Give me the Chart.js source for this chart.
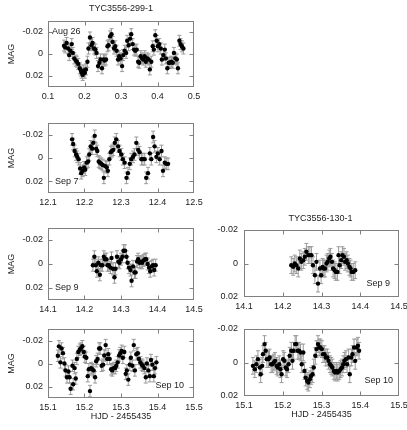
<!DOCTYPE html>
<html>
<head>
<meta charset="utf-8">
<script src="https://cdn.jsdelivr.net/npm/chart.js@4.4.1/dist/chart.umd.min.js"></script>
<style>
  body { margin: 0; background: #fff; width: 407px; height: 430px; position: relative; overflow: hidden; }
  canvas { position: absolute; }
</style>
</head>
<body>
<canvas id="c1" width="206" height="107" style="left:0;top:0"></canvas>
<canvas id="c2" width="206" height="103" style="left:0;top:110px"></canvas>
<canvas id="c3" width="206" height="105" style="left:0;top:215px"></canvas>
<canvas id="c4" width="206" height="107" style="left:0;top:315px"></canvas>
<canvas id="c5" width="207" height="107" style="left:200px;top:210px"></canvas>
<canvas id="c6" width="207" height="105" style="left:200px;top:315px"></canvas>
<script>
// TYC3556-299-1, Aug 26
const s299Aug26Hjd = [0.144,0.147,0.151,0.155,0.158,0.161,0.165,0.168,0.172,0.176,0.179,0.183,0.187,0.190,0.192,0.195,0.198,0.201,0.204,0.208,
  0.211,0.215,0.219,0.222,0.226,0.230,0.233,0.237,0.241,0.244,0.248,0.252,0.255,0.259,0.263,0.266,0.270,0.274,0.277,0.281,
  0.284,0.288,0.292,0.295,0.299,0.303,0.306,0.310,0.314,0.317,0.321,0.325,0.328,0.332,0.336,0.339,0.343,0.347,0.350,0.354,
  0.358,0.361,0.365,0.368,0.372,0.376,0.379,0.383,0.387,0.390,0.394,0.398,0.401,0.405,0.409,0.412,0.416,0.420,0.423,0.427,
  0.431,0.434,0.438,0.442,0.445,0.449,0.453,0.456,0.460,0.463,0.467,0.471];
const s299Aug26Mag = [-0.0076,-0.006,-0.010,-0.005,0.001,-0.003,-0.009,-0.001,0.004,0.006,0.007,0.009,0.013,0.015,0.017,0.019,0.015,0.017,0.014,0.007,
  -0.005,-0.015,-0.008,-0.010,-0.005,-0.004,-0.001,0.011,0.008,0.005,0.013,0.005,0.006,0.005,-0.007,-0.008,-0.016,-0.018,-0.011,-0.005,
  -0.007,-0.003,0.005,0.002,0.004,0.011,0.001,-0.003,-0.001,-0.012,-0.008,-0.014,-0.018,-0.009,-0.004,-0.003,-0.004,0.007,0.008,0.002,
  0.004,0.005,0.002,0.007,0.004,0.005,0.014,0.007,-0.007,-0.004,-0.017,-0.012,-0.007,-0.009,-0.005,0.005,0.001,-0.004,0.004,0.013,
  0.008,0.008,0.007,0.008,-0.001,0.004,0.005,0.013,-0.012,-0.009,-0.007,-0.005];

// TYC3556-299-1, Sep 7
const s299Sep7Hjd = [12.166,12.169,12.173,12.177,12.180,12.184,12.188,12.191,12.195,12.199,12.202,12.206,12.210,12.213,12.217,12.221,12.224,12.228,12.232,12.235,
  12.239,12.242,12.246,12.250,12.253,12.257,12.261,12.264,12.268,12.272,12.275,12.279,12.283,12.287,12.292,12.296,12.301,12.305,12.310,12.315,
  12.319,12.324,12.328,12.333,12.337,12.342,12.347,12.351,12.356,12.360,12.365,12.369,12.374,12.379,12.383,12.388,12.392,12.397,12.401,12.406,
  12.411,12.415,12.420,12.424,12.429];
const s299Sep7Mag = [-0.016,-0.012,-0.006,-0.003,-0.001,0.001,0.009,0.013,0.011,0.008,0.010,0.004,0.003,-0.003,-0.010,-0.008,-0.013,-0.019,-0.008,-0.006,
  0.003,0.004,0.005,0.006,0.017,0.007,0.008,0.011,0.001,-0.005,-0.006,-0.007,-0.013,-0.016,-0.010,-0.006,-0.003,0.001,0.004,0.017,
  0.013,0.005,0.001,-0.001,-0.003,-0.013,-0.007,-0.005,0.001,0.001,0.001,0.017,0.013,-0.004,0.001,-0.018,-0.010,-0.001,-0.004,0.001,
  -0.006,0.011,0.004,0.005,0.005];

// TYC3556-299-1, Sep 9
const s299Sep9Hjd = [14.223,14.227,14.231,14.234,14.238,14.242,14.245,14.249,14.253,14.256,14.260,14.263,14.267,14.271,14.274,14.278,14.282,14.285,14.289,14.293,
  14.296,14.300,14.304,14.307,14.311,14.315,14.318,14.322,14.326,14.329,14.333,14.337,14.340,14.344,14.347,14.351,14.355,14.358,14.362,14.366,
  14.369,14.373,14.377,14.380,14.384,14.388,14.391,14.395];
const s299Sep9Mag = [0.001,-0.006,0.001,0.006,-0.001,0.009,0.001,0.001,-0.006,-0.004,-0.004,0.001,0.001,0.003,-0.005,0.004,0.011,0.004,-0.006,-0.002,
  -0.001,-0.004,-0.006,-0.011,-0.011,-0.006,-0.001,0.003,0.005,0.014,0.002,0.007,0.007,-0.002,-0.004,-0.001,-0.002,-0.001,-0.003,-0.004,
  -0.004,0.000,0.003,0.006,0.002,0.001,0.005,0.001];

// TYC3556-299-1, Sep 10
const s299Sep10Hjd = [15.127,15.130,15.134,15.137,15.141,15.145,15.148,15.152,15.156,15.159,15.162,15.167,15.169,15.173,15.176,15.179,15.183,15.187,15.190,15.194,
  15.198,15.201,15.205,15.209,15.212,15.215,15.218,15.221,15.225,15.229,15.232,15.236,15.240,15.243,15.247,15.251,15.254,15.258,15.262,15.265,
  15.269,15.273,15.276,15.280,15.284,15.287,15.291,15.295,15.298,15.302,15.305,15.309,15.313,15.316,15.320,15.324,15.327,15.331,15.335,15.338,
  15.342,15.346,15.349,15.353,15.357,15.360,15.364,15.368,15.371,15.375,15.379,15.382,15.386,15.390,15.393,15.397];
const s299Sep10Mag = [-0.0067,-0.0149,-0.001,-0.013,-0.009,0.000,0.006,0.012,0.007,0.012,0.022,0.002,0.018,0.004,0.013,-0.004,-0.010,-0.012,-0.013,-0.015,
  -0.010,-0.006,-0.005,0.011,0.005,0.024,0.004,0.005,0.006,0.012,-0.002,-0.004,-0.013,-0.013,0.002,0.001,-0.007,-0.016,-0.004,-0.008,
  -0.004,0.005,0.006,0.004,0.004,0.002,-0.001,-0.007,-0.009,-0.011,-0.005,-0.010,0.009,0.006,0.014,0.001,-0.005,0.002,-0.016,0.006,
  -0.008,-0.009,-0.004,-0.001,0.001,0.002,0.004,0.012,0.000,0.006,0.011,-0.003,0.001,0.011,0.004,-0.001];

// TYC3556-130-1, Sep 9
const s130Sep9Hjd = [14.222,14.227,14.231,14.235,14.240,14.244,14.248,14.253,14.257,14.261,14.266,14.270,14.274,14.278,14.283,14.287,14.291,14.296,14.299,14.303,
  14.306,14.309,14.313,14.316,14.320,14.323,14.327,14.330,14.334,14.337,14.341,14.344,14.347,14.351,14.354,14.358,14.361,14.365,14.368,14.372,
  14.375,14.378,14.382,14.387];
const s130Sep9Mag = [0.001,0.002,0.000,0.001,0.003,-0.003,-0.001,-0.002,-0.004,-0.007,-0.005,-0.005,-0.005,0.001,0.007,-0.001,0.012,0.003,0.007,0.002,
  0.003,0.003,0.000,-0.001,-0.003,-0.004,-0.001,0.003,0.004,0.005,0.005,-0.005,0.001,-0.002,-0.005,-0.004,-0.001,-0.002,0.000,0.002,
  0.003,0.005,0.005,0.004];

// TYC3556-130-1, Sep 10
const s130Sep10Hjd = [15.123,15.128,15.132,15.136,15.141,15.143,15.147,15.149,15.153,15.156,15.159,15.163,15.166,15.170,15.173,15.177,15.180,15.184,15.187,15.191,
  15.194,15.197,15.201,15.204,15.208,15.211,15.215,15.218,15.222,15.225,15.228,15.232,15.235,15.239,15.242,15.246,15.249,15.253,15.256,15.259,
  15.263,15.266,15.270,15.273,15.277,15.280,15.284,15.287,15.291,15.294,15.297,15.301,15.304,15.308,15.311,15.315,15.318,15.322,15.325,15.328,
  15.332,15.335,15.339,15.342,15.346,15.349,15.353,15.356,15.359,15.363,15.366,15.370,15.373,15.377,15.380,15.384,15.387,15.391,15.394,15.397];
const s130Sep10Mag = [0.002,0.004,0.001,-0.002,0.003,0.007,0.002,-0.005,-0.011,-0.007,-0.002,-0.002,-0.003,0.001,0.001,0.000,-0.001,0.002,0.003,0.001,
  0.004,0.007,-0.002,-0.001,0.003,0.004,0.001,-0.004,-0.007,-0.001,-0.007,-0.011,-0.011,-0.007,-0.007,-0.006,0.001,-0.006,0.005,0.009,
  0.011,0.012,0.010,0.008,0.007,0.003,-0.004,-0.008,-0.011,-0.009,-0.009,-0.008,-0.005,-0.005,-0.003,-0.003,-0.001,0.001,0.002,0.003,
  0.005,0.006,0.005,0.006,0.005,0.004,0.003,0.001,-0.001,-0.002,0.001,-0.003,0.007,-0.003,-0.005,-0.009,-0.001,-0.009,-0.010,-0.007];

// photometric error and tick labels
const magErr = 0.005;
const ticksAug26 = [0.1, 0.2, 0.3, 0.4, 0.5];
const ticksSep7 = [12.1, 12.2, 12.3, 12.4, 12.5];
const ticksSep9 = [14.1, 14.2, 14.3, 14.4, 14.5];
const ticksSep10 = [15.1, 15.2, 15.3, 15.4, 15.5];
const magTicks = [-0.02, 0, 0.02];

Chart.defaults.font.family = '"Liberation Sans", Arial, sans-serif';
Chart.defaults.font.size = 9;
Chart.defaults.color = '#222';

const panelPlugin = {
  id: 'panel',
  beforeDatasetsDraw(chart, args, o) {
    // error bars
    const { ctx, scales: { x, y } } = chart;
    ctx.save();
    ctx.strokeStyle = '#9a9a9a';
    ctx.lineWidth = 1;
    ctx.beginPath();
    chart.data.datasets[0].data.forEach(p => {
      const px = x.getPixelForValue(p.x);
      const y1 = y.getPixelForValue(p.y - o.err);
      const y2 = y.getPixelForValue(p.y + o.err);
      ctx.moveTo(px, y1); ctx.lineTo(px, y2);
      ctx.moveTo(px - 2, y1); ctx.lineTo(px + 2, y1);
      ctx.moveTo(px - 2, y2); ctx.lineTo(px + 2, y2);
    });
    ctx.stroke();
    ctx.restore();
  },
  afterDraw(chart, args, o) {
    const { ctx, chartArea: a, scales: { x, y } } = chart;
    const l = Math.round(a.left) + 0.5, r = Math.round(a.right) - 0.5;
    const t = Math.round(a.top) + 0.5, b = Math.round(a.bottom) - 0.5;
    ctx.save();
    ctx.strokeStyle = '#808080';
    ctx.lineWidth = 1;
    ctx.strokeRect(l, t, r - l, b - t);
    ctx.beginPath();
    x.ticks.forEach(tk => {
      const px = Math.round(x.getPixelForValue(tk.value)) + 0.5;
      if (px < l + 2 || px > r - 2) return;
      ctx.moveTo(px, b); ctx.lineTo(px, b - 4);
      ctx.moveTo(px, t); ctx.lineTo(px, t + 4);
    });
    y.ticks.forEach(tk => {
      const py = Math.round(y.getPixelForValue(tk.value)) + 0.5;
      if (py < t + 2 || py > b - 2) return;
      ctx.moveTo(l, py); ctx.lineTo(l + 4, py);
      ctx.moveTo(r, py); ctx.lineTo(r - 4, py);
    });
    ctx.stroke();

    ctx.fillStyle = '#222';
    ctx.font = '9px "Liberation Sans", Arial, sans-serif';
    ctx.textBaseline = 'middle';
    if (o.label) {
      ctx.textAlign = o.label.right ? 'right' : 'left';
      const lx = o.label.right ? a.right - o.label.dx : a.left + o.label.dx;
      const ly = o.label.top ? a.top + o.label.dy : a.bottom - o.label.dy;
      ctx.fillText(o.label.text, lx, ly);
    }
    if (o.title) {
      ctx.textAlign = 'center';
      ctx.fillText(o.title, (a.left + a.right) / 2 + o.titleDx, o.titleY);
    }
    ctx.restore();
  }
};

function makePanel(id, hjd, mag, xTicks, p) {
  const yMax = p.yMax;
  new Chart(document.getElementById(id), {
    type: 'scatter',
    data: {
      datasets: [{
        data: hjd.map((v, i) => ({ x: v, y: mag[i] })),
        backgroundColor: '#000',
        borderWidth: 0,
        pointRadius: 2.2,
        pointHoverRadius: 2.2
      }]
    },
    options: {
      responsive: false,
      animation: false,
      events: [],
      layout: { padding: { top: p.top, right: p.right, left: 0, bottom: 0 } },
      plugins: {
        legend: { display: false },
        tooltip: { enabled: false },
        panel: { err: magErr, label: p.label, title: p.title, titleY: p.titleY, titleDx: p.titleDx || 0 }
      },
      scales: {
        x: {
          type: 'linear',
          min: xTicks[0],
          max: xTicks[xTicks.length - 1],
          grid: { display: false, drawTicks: false },
          border: { display: false },
          afterBuildTicks: s => { s.ticks = xTicks.map(v => ({ value: v })); },
          afterFit: s => { s.height = p.xh; s.paddingLeft = 0; s.paddingRight = 0; },
          ticks: { padding: 4, autoSkip: false, maxRotation: 0, callback: v => v.toFixed(1) },
          title: { display: !!p.xTitle, text: p.xTitle, padding: 0 }
        },
        y: {
          min: -yMax,
          max: yMax,
          reverse: true,
          grid: { display: false, drawTicks: false },
          border: { display: false },
          afterBuildTicks: s => { s.ticks = magTicks.map(v => ({ value: v })); },
          afterFit: s => { s.width = p.yw; s.paddingTop = 0; s.paddingBottom = 0; },
          ticks: { padding: p.ytPad, autoSkip: false, callback: v => v === 0 ? '0' : v.toFixed(2) },
          title: { display: !!p.yTitle, text: p.yTitle, padding: { top: 6.6, bottom: 0 } }
        }
      }
    },
    plugins: [panelPlugin]
  });
}

makePanel('c1', s299Aug26Hjd, s299Aug26Mag, ticksAug26, {
  top: 21, right: 12, xh: 20, yw: 48, ytPad: 5, yMax: 0.03, yTitle: 'MAG',
  title: 'TYC3556-299-1', titleY: 9,
  label: { text: 'Aug 26', top: true, dx: 4, dy: 11 }
});
makePanel('c2', s299Sep7Hjd, s299Sep7Mag, ticksSep7, {
  top: 13, right: 12, xh: 20, yw: 48, ytPad: 5, yMax: 0.03, yTitle: 'MAG',
  label: { text: 'Sep 7', dx: 7, dy: 11 }
});
makePanel('c3', s299Sep9Hjd, s299Sep9Mag, ticksSep9, {
  top: 13, right: 12, xh: 20, yw: 48, ytPad: 5, yMax: 0.03, yTitle: 'MAG',
  label: { text: 'Sep 9', dx: 7, dy: 12 }
});
makePanel('c4', s299Sep10Hjd, s299Sep10Mag, ticksSep10, {
  top: 14, right: 12, xh: 24, yw: 48, ytPad: 5, yMax: 0.03, yTitle: 'MAG',
  xTitle: 'HJD - 2455435',
  label: { text: 'Sep 10', right: true, dx: 10, dy: 12 }
});
makePanel('c5', s130Sep9Hjd, s130Sep9Mag, ticksSep9, {
  top: 20, right: 8, xh: 20, yw: 44, ytPad: 6, yMax: 0.02,
  title: 'TYC3556-130-1', titleY: 9, titleDx: -1,
  label: { text: 'Sep 9', right: true, dx: 9, dy: 13 }
});
makePanel('c6', s130Sep10Hjd, s130Sep10Mag, ticksSep10, {
  top: 14, right: 8, xh: 24, yw: 44, ytPad: 6, yMax: 0.02,
  xTitle: 'HJD - 2455435',
  label: { text: 'Sep 10', right: true, dx: 6, dy: 15 }
});
</script>
</body>
</html>
